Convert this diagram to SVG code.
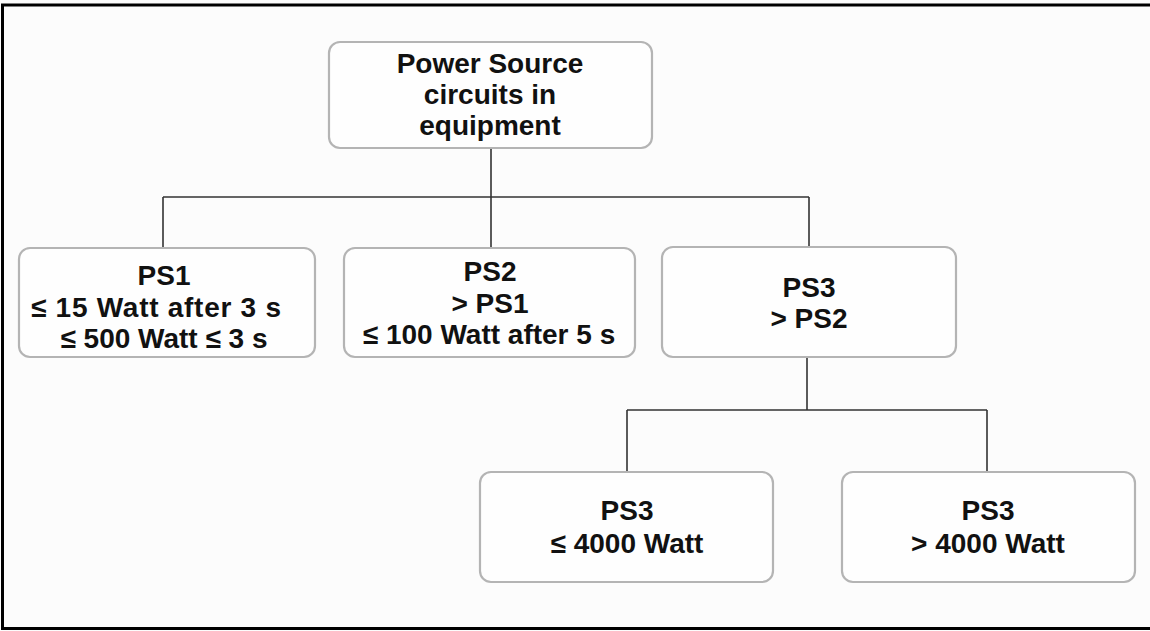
<svg xmlns="http://www.w3.org/2000/svg" width="1150" height="631" viewBox="0 0 1150 631">
  <style>
    .box { fill: #fefefe; stroke: #b4b4b4; stroke-width: 2.2; }
    .lbl { font-family: "Liberation Sans", Arial, sans-serif; font-weight: bold; font-size: 28px; fill: #111; text-anchor: middle; }
    .conn { fill: none; stroke: #333; stroke-width: 1.6; }
  </style>
  <rect x="0" y="0" width="1150" height="631" fill="#fcfcfc"/>
  <path d="M1152,5 H2.5 V628.5 H1152" fill="none" stroke="#000" stroke-width="3"/>

  <g id="connectors">
    <path class="conn" d="M491,148 V197 M163,197 H809 M163,197 V248 M491,197 V248 M809,197 V248"/>
    <path class="conn" d="M807,357 V410 M627,410 H987 M627,410 V472 M987,410 V472"/>
  </g>

  <g id="root">
    <rect class="box" x="329" y="42" width="323" height="106" rx="11"/>
    <text class="lbl" x="490" y="73">Power Source</text>
    <text class="lbl" x="490" y="104">circuits in</text>
    <text class="lbl" x="490" y="135">equipment</text>
  </g>

  <g id="ps1">
    <rect class="box" x="19" y="248" width="296" height="109" rx="11"/>
    <text class="lbl" x="164" y="285">PS1</text>
    <text class="lbl" x="156" y="317" textLength="250" lengthAdjust="spacing">≤ 15 Watt after 3 s</text>
    <text class="lbl" x="164" y="348">≤ 500 Watt ≤  3 s</text>
  </g>

  <g id="ps2">
    <rect class="box" x="344" y="248" width="291" height="109" rx="11"/>
    <text class="lbl" x="490" y="281">PS2</text>
    <text class="lbl" x="490" y="313">&gt; PS1</text>
    <text class="lbl" x="489" y="344">≤ 100 Watt  after 5 s</text>
  </g>

  <g id="ps3">
    <rect class="box" x="662" y="247" width="294" height="110" rx="11"/>
    <text class="lbl" x="809" y="297">PS3</text>
    <text class="lbl" x="809" y="328">&gt; PS2</text>
  </g>

  <g id="ps3-low">
    <rect class="box" x="480" y="472" width="293" height="110" rx="11"/>
    <text class="lbl" x="627" y="520">PS3</text>
    <text class="lbl" x="627" y="553">≤ 4000 Watt</text>
  </g>

  <g id="ps3-high">
    <rect class="box" x="842" y="472" width="293" height="110" rx="11"/>
    <text class="lbl" x="988" y="520">PS3</text>
    <text class="lbl" x="988" y="553">&gt; 4000 Watt</text>
  </g>
</svg>
